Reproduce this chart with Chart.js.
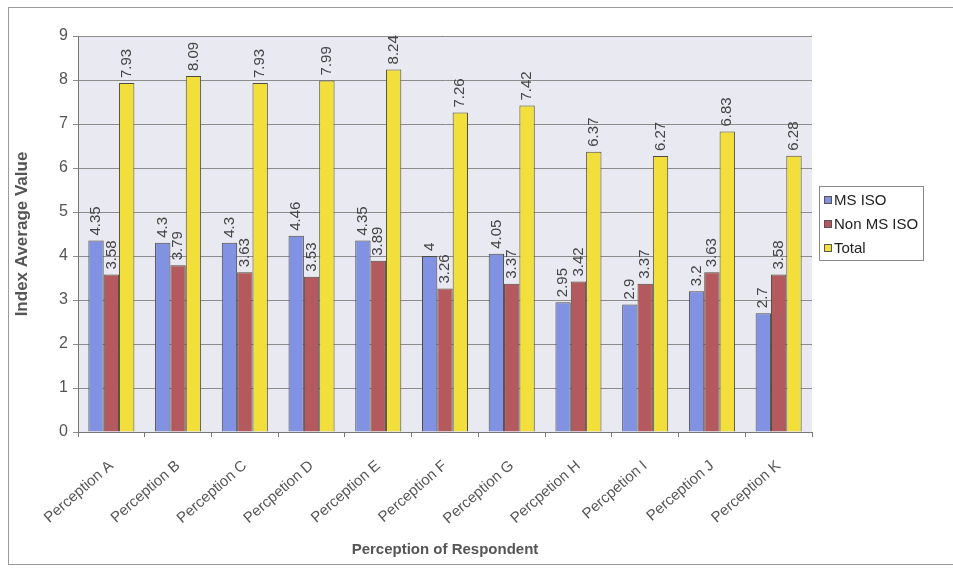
<!DOCTYPE html>
<html>
<head>
<meta charset="utf-8">
<script src="https://cdn.jsdelivr.net/npm/chart.js@4"></script>
<style>
  html, body { margin: 0; padding: 0; background: #fff; }
  #wrap { width: 953px; height: 569px; position: relative; }
</style>
</head>
<body>
<div id="wrap"><canvas id="chart" width="953" height="569"></canvas></div>
<script>
// categories + series
const categories = ['Perception A', 'Perception B', 'Perception C', 'Percpetion D', 'Perception E', 'Perception F',
                    'Perception G', 'Percpetion H', 'Percpetion I', 'Perception J', 'Perception K'];
const msIso    = [4.35, 4.3, 4.3, 4.46, 4.35, 4, 4.05, 2.95, 2.9, 3.2, 2.7];
const nonMsIso = [3.58, 3.79, 3.63, 3.53, 3.89, 3.26, 3.37, 3.42, 3.37, 3.63, 3.58];
const total    = [7.93, 8.09, 7.93, 7.99, 8.24, 7.26, 7.42, 6.37, 6.27, 6.83, 6.28];
const seriesNames = ['MS ISO', 'Non MS ISO', 'Total'];
const seriesColors = ['#8192e2', '#b45a5e', '#f2df3c'];

const FONT = "'Liberation Sans', Arial, sans-serif";

// fond + cadre
const bgPlugin = {
    id: 'bg',
    beforeDraw(chart) {
        const { ctx, chartArea: a } = chart;
        ctx.save();
        ctx.fillStyle = '#fff';
        ctx.fillRect(0, 0, chart.width, chart.height);
        ctx.strokeStyle = '#9a9a9a'; ctx.lineWidth = 1;
        ctx.strokeRect(8.5, 7.5, 960, 557);
        ctx.fillStyle = '#e9eaf1';
        ctx.fillRect(a.left, a.top, a.right - a.left, a.bottom - a.top);
        ctx.restore();
    }
};

// valeurs verticales au-dessus des barres
const labelPlugin = {
    id: 'vlabels',
    afterDatasetsDraw(chart) {
        const { ctx } = chart;
        ctx.save();
        ctx.font = '15px ' + FONT;
        ctx.fillStyle = '#444';
        ctx.textAlign = 'left'; ctx.textBaseline = 'middle';
        chart.data.datasets.forEach((ds, i) => {
            chart.getDatasetMeta(i).data.forEach((bar, j) => {
                ctx.save();
                ctx.translate(bar.x, bar.y - 5);
                ctx.rotate(-Math.PI / 2);
                ctx.fillText(String(ds.data[j]), 0, 0);
                ctx.restore();
            });
        });
        ctx.restore();
    }
};

// légende encadrée à droite
const legendPlugin = {
    id: 'boxLegend',
    afterDraw(chart) {
        const { ctx } = chart;
        const x = 819, y = 186, w = 104, h = 74;
        ctx.save();
        ctx.fillStyle = '#fff';
        ctx.fillRect(x, y, w, h);
        ctx.strokeStyle = '#8a8a8a'; ctx.lineWidth = 1;
        ctx.strokeRect(x + 0.5, y + 0.5, w, h);
        ctx.font = '15px ' + FONT;
        ctx.textBaseline = 'middle'; ctx.textAlign = 'left';
        chart.data.datasets.forEach((ds, i) => {
            const cy = y + 14 + i * 24;
            ctx.fillStyle = ds.backgroundColor;
            ctx.fillRect(x + 5, cy - 4, 8, 8);
            ctx.strokeStyle = '#555';
            ctx.strokeRect(x + 5.5, cy - 3.5, 7, 7);
            ctx.fillStyle = '#222';
            ctx.fillText(ds.label, x + 15, cy + 1);
        });
        ctx.restore();
    }
};

new Chart(document.getElementById('chart').getContext('2d'), {
    type: 'bar',
    data: {
        labels: categories,
        datasets: [msIso, nonMsIso, total].map((d, i) => ({
            label: seriesNames[i], data: d,
            backgroundColor: seriesColors[i], borderColor: '#4d4a40', borderWidth: 1,
            categoryPercentage: 0.69, barPercentage: 1
        }))
    },
    options: {
        responsive: false, animation: false,
        layout: { padding: { top: 36, right: 141, left: 8, bottom: 8 } },
        plugins: { legend: { display: false }, tooltip: { enabled: false } },
        scales: {
            x: {
                grid: { display: true, drawOnChartArea: false, offset: true, tickLength: 5, color: '#777' },
                border: { color: '#777' },
                ticks: { font: { family: FONT, size: 15 }, color: '#555', minRotation: 41, maxRotation: 41, padding: 20 },
                title: { display: true, text: 'Perception of Respondent', font: { family: FONT, size: 15, weight: 'bold' }, color: '#555', padding: { top: 0, bottom: 2 } },
                afterFit(s) { s.height = 569 - 432 - 8; }
            },
            y: {
                min: 0, max: 9,
                ticks: { stepSize: 1, font: { family: FONT, size: 16 }, color: '#555', padding: 5 },
                grid: { color: '#8c8c8c', tickLength: 5 },
                border: { color: '#777' },
                title: { display: true, text: 'Index Average Value', font: { family: FONT, size: 17, weight: 'bold' }, color: '#555', padding: { bottom: 6 } },
                afterFit(s) { s.width = 78 - 8; }
            }
        }
    },
    plugins: [bgPlugin, labelPlugin, legendPlugin]
});
</script>
</body>
</html>
